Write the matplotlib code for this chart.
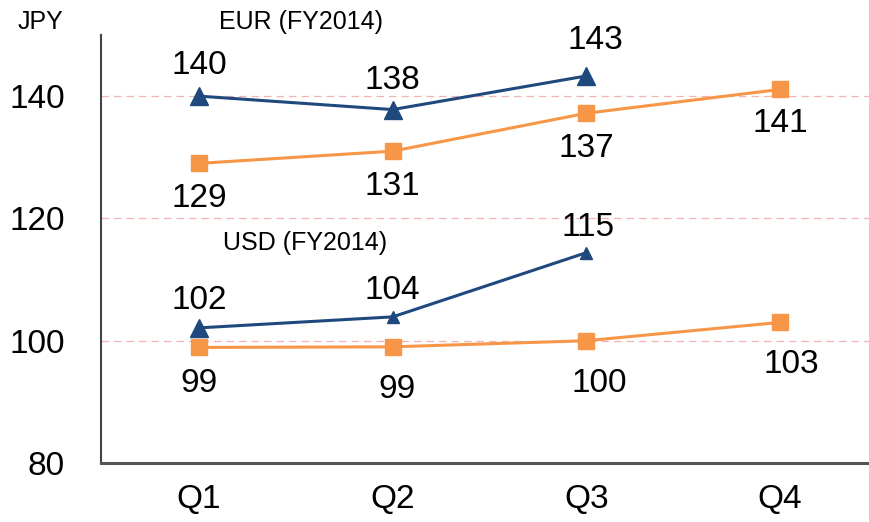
import matplotlib
matplotlib.use("Agg")
import matplotlib.pyplot as plt

plt.rcParams["font.family"] = ["Liberation Sans", "DejaVu Sans"]

quarters = ["Q1", "Q2", "Q3", "Q4"]
eur_2014 = [140.0, 137.8, 143.3]
eur_2013 = [129.0, 131.0, 137.2, 141.1]
usd_2014 = [102.1, 103.9, 114.4]
usd_2013 = [98.9, 99.0, 100.0, 103.0]

eur_2014_labels = ["140", "138", "143"]
eur_2013_labels = ["129", "131", "137", "141"]
usd_2014_labels = ["102", "104", "115"]
usd_2013_labels = ["99", "99", "100", "103"]

NAVY = "#1f497d"
ORANGE = "#f79646"

fig = plt.figure(figsize=(8.7, 5.22), dpi=100)
ax = fig.add_axes([0.116, 0.113, 0.884, 0.820])

x = list(range(len(quarters)))

# orange lines (previous year)
ax.plot(x, eur_2013, color=ORANGE, lw=2.2, marker="s", ms=11, zorder=3)
ax.plot(x, usd_2013, color=ORANGE, lw=2.2, marker="s", ms=11, zorder=3)

# navy FY2014
ax.plot(x[:3], eur_2014, color=NAVY, lw=2.2, marker="^", ms=13, zorder=4)
ax.plot(x[:3], usd_2014, color=NAVY, lw=2.2, zorder=4)
ax.plot(x[:1], usd_2014[:1], ls="none", color=NAVY, marker="^", ms=13, zorder=4)
ax.plot(x[1:3], usd_2014[1:3], ls="none", color=NAVY, marker="^", ms=9, zorder=4)


def label(xs, ys, texts, dy, dx):
    for xi, yi, t, oy, ox in zip(xs, ys, texts, dy, dx):
        ax.annotate(t, (xi, yi), xytext=(ox, oy), textcoords="offset pixels",
                    ha="center", va="center", fontsize=24, color="black", zorder=5)


# label offsets in pixels
label(x, eur_2014, eur_2014_labels, [31, 29, 35], [0, 0, 9])
label(x, eur_2013, eur_2013_labels, [-35, -35, -35, -34], [0, 0, 0, 0])
label(x, usd_2014, usd_2014_labels, [27, 26, 25], [0, 0, 2])
label(x, usd_2013, usd_2013_labels, [-36, -43, -43, -42], [0, 4, 13, 11])

ax.set_xlim(-0.506, 3.464)
ax.set_ylim(80, 150)
ax.set_yticks([80, 100, 120, 140])
ax.set_xticks(x)
ax.set_xticklabels(quarters)
ax.tick_params(axis="both", length=0, labelsize=24)
ax.tick_params(axis="y", pad=26)
ax.tick_params(axis="x", pad=15)

for yv in [100, 120, 140]:
    ax.axhline(yv, color="#f2b3b3", lw=0.9, ls=(0, (6, 4)), zorder=1)

ax.spines["top"].set_visible(False)
ax.spines["right"].set_visible(False)
ax.spines["left"].set_color("#444444")
ax.spines["bottom"].set_color("#555555")
ax.spines["left"].set_linewidth(1.5)
ax.spines["bottom"].set_linewidth(2.2)

fig.text(40 / 870, 1 - 22 / 522, "JPY", ha="center", va="center", fontsize=18)
fig.text(301 / 870, 1 - 22 / 522, "EUR (FY2014)", ha="center", va="center", fontsize=18)
fig.text(305 / 870, 1 - 243 / 522, "USD (FY2014)", ha="center", va="center", fontsize=18)

fig.savefig("out.png", dpi=100)
